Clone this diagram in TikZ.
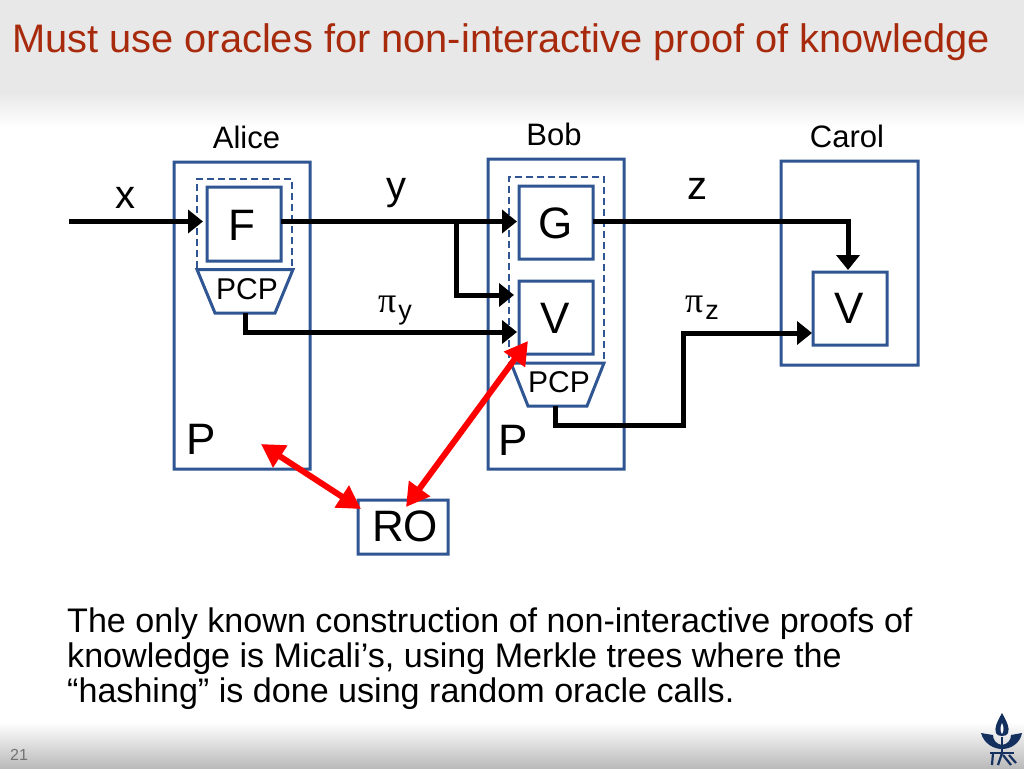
\documentclass[tikz,border=0pt]{standalone}
\usepackage{fontspec}
\setmainfont{Liberation Sans}
\newfontfamily\pifont{Liberation Serif}
\usetikzlibrary{arrows.meta}
\definecolor{boxblue}{HTML}{2F5593}
\definecolor{titlered}{HTML}{A82A0C}
\definecolor{logoblue}{HTML}{14305F}
\newcommand{\fs}[1]{\fontsize{#1}{#1}\selectfont}
\newcommand{\frameit}[1]{\fill[boxblue,even odd rule]
  ([shift={(-1.5,-1.5)}]#1.north west) rectangle ([shift={(1.5,1.5)}]#1.south east)
  ([shift={(1.5,1.5)}]#1.north west) rectangle ([shift={(-1.5,-1.5)}]#1.south east);}
\tikzset{
  x=1pt,y=-1pt,
  outerbox/.style={fill=none,inner sep=0pt,outer sep=0pt,anchor=north west},
  innerbox/.style={outerbox,fill=white},
  dashbox/.style={draw=boxblue,line width=2.9pt,dash pattern=on 7pt off 4pt,outer sep=0pt},
  pcpshape/.style={draw=boxblue,line width=3pt,fill=white,line join=miter},
  big/.style={font=\fs{44},inner sep=0pt},
  mid/.style={font=\fs{40},inner sep=0pt},
  lab/.style={font=\fs{31},inner sep=0pt},
  pcplab/.style={font=\fs{30},inner sep=0pt},
  conn/.style={draw=black,line width=5pt,-{Triangle[length=15pt,width=23pt]}},
  redconn/.style={draw=red,line width=6pt,{Triangle[length=23pt,width=25pt]}-{Triangle[length=23pt,width=25pt]}},
}
\begin{document}
\begin{tikzpicture}
\useasboundingbox (0,0) rectangle (1024,768);
% background bands
\fill[white] (0,0) rectangle (1024,768);
\fill[black!9] (0,0) rectangle (1024,92);
\shade[top color=black!9,bottom color=white] (0,92) rectangle (1024,128);
\shade[top color=white,bottom color=black!27] (0,722) rectangle (1024,768);
% title and text
\node[anchor=west,inner sep=0pt,text=titlered,font=\fs{39.8}] (title) at (12,42) {Must use oracles for non-interactive proof of knowledge};
\node[anchor=north west,inner sep=0pt,align=left,font=\fontsize{34.1}{35}\selectfont] (body) at (67,608)
  {The only known construction of non-interactive proofs of\\knowledge is Micali’s, using Merkle trees where the\\“hashing” is done using random oracle calls.};
\node[anchor=west,inner sep=0pt,text=black!55,font=\fs{16}] (num) at (10,755) {21};
% outer boxes
\node[outerbox,minimum width=136pt,minimum height=307pt] (alice) at (174,162) {};
\node[outerbox,minimum width=136pt,minimum height=310pt] (bob) at (488,159) {};
\node[outerbox,minimum width=137pt,minimum height=204pt] (carol) at (781,161) {};
\frameit{alice}\frameit{bob}\frameit{carol}
\node[lab] (lalice) at (246.5,137) {Alice};
\node[lab] (lbob) at (554,134) {Bob};
\node[lab] (lcarol) at (847,136) {Carol};
% dashed boxes
\node[dashbox,anchor=north west,minimum width=95pt,minimum height=91pt,inner sep=0pt] (da) at (197,179) {};
\node[dashbox,anchor=north west,minimum width=95pt,minimum height=186pt,inner sep=0pt] (db) at (509,177) {};
% inner boxes
\node[innerbox,minimum width=74pt,minimum height=74pt] (F) at (207,187) {};
\node[big] (Ft) at (242,225) {F};
\node[innerbox,minimum width=74pt,minimum height=73pt] (G) at (519,186) {};
\node[big] (Gt) at (556,223) {G};
\node[innerbox,minimum width=74pt,minimum height=73pt] (V) at (519,281) {};
\node[big] (Vt) at (555,318) {V};
\node[innerbox,minimum width=74pt,minimum height=73pt] (VC) at (813,272) {};
\node[big] (VCt) at (849,308) {V};
\node[innerbox,minimum width=90pt,minimum height=54pt] (RO) at (358,500) {};
\node[big] (ROt) at (405,526) {RO};
\frameit{F}\frameit{G}\frameit{V}\frameit{VC}\frameit{RO}
% PCP
\draw[pcpshape] (197,269.5) -- (293,269.5) -- (275,313) -- (215,313) -- cycle;
\node[pcplab] (pat) at (247,289) {PCP};
\draw[pcpshape] (511,363) -- (604,363) -- (587,406) -- (528,406) -- cycle;
\node[pcplab] (pbt) at (559,382) {PCP};
% labels
\node[big] (pl1) at (201,439) {P};
\node[big] (pl2) at (513,440) {P};
\node[mid] (lx) at (125,198) {x};
\node[mid] (ly) at (396,193) {y};
\node[mid] (lz) at (697,189) {z};
\node[inner sep=0pt,anchor=base west] (lpy) at (378,312) {{\pifont\fs{36}π}\kern2pt{\fs{27}\raisebox{-7pt}{y}}};
\node[inner sep=0pt,anchor=base west] (lpz) at (685,312) {{\pifont\fs{36}π}\kern2pt{\fs{27}\raisebox{-7pt}{z}}};
% connector points
\coordinate (xin) at (69,221.5);
\coordinate (xend) at (203,221.5);
\coordinate (branch) at (456,221.5);
\coordinate (bendv) at (456,295);
\coordinate (vin) at (514,295);
\coordinate (pab) at (245,332);
\coordinate (vin2) at (517,332);
\coordinate (gin) at (517,221.5);
\coordinate (fout) at (281,221.5);
\coordinate (gout) at (593,221.5);
\coordinate (cbend) at (848,221.5);
\coordinate (cin) at (848,270);
\coordinate (pbb1) at (555,425);
\coordinate (pbb2) at (683,425);
\coordinate (pbb3) at (683,333);
\coordinate (cin2) at (812,333);
\coordinate (pas) at (245,313);
\coordinate (pbs) at (555,406);
\coordinate (r1) at (261,444);
\coordinate (r2) at (361,509);
\coordinate (r3) at (406,507);
\coordinate (r4) at (528,341);
% connectors
\draw[conn] (xin) -- (xend);
\draw[conn] (fout) -- (gin);
\draw[conn,line join=miter] (branch) -- (bendv) -- (vin);
\draw[conn,line join=miter] (pas) -- (pab) -- (vin2);
\draw[conn,line join=miter] (gout) -- (cbend) -- (cin);
\draw[conn,line join=miter] (pbs) -- (pbb1) -- (pbb2) -- (pbb3) -- (cin2);
\draw[redconn] (r1) -- (r2);
\draw[redconn] (r3) -- (r4);
% logo
\begin{scope}[logoblue]
  \fill (1002,713) .. controls (997,722) and (994,728) .. (996,733) .. controls (997,737) and (1007,737) .. (1008,733) .. controls (1010,728) and (1007,722) .. (1002,713) -- cycle;
  \fill[white] (1002,723) .. controls (1000,727) and (1000,731) .. (1002,734) .. controls (1004,731) and (1004,727) .. (1002,723) -- cycle;
  \fill (981,733) -- (993,735) .. controls (993,740) and (996,744) .. (1002,745) .. controls (1008,744) and (1011,740) .. (1011,735) -- (1022,733) .. controls (1020,744) and (1010,749) .. (1002,749) .. controls (994,749) and (984,744) .. (981,733) -- cycle;
  \draw[line width=2.2pt] (1002,737) -- (1002,752);
  \draw[line width=2.4pt] (990,753) -- (1014,753);
  \draw[line width=2.2pt] (993,753) -- (992,765);
  \draw[line width=2.2pt] (1002,753) -- (998,765);
  \draw[line width=2.2pt] (1003,755) -- (1011,765);
  \draw[line width=2.2pt] (1009,755) -- (1016,763);
\end{scope}
\end{tikzpicture}
\end{document}
